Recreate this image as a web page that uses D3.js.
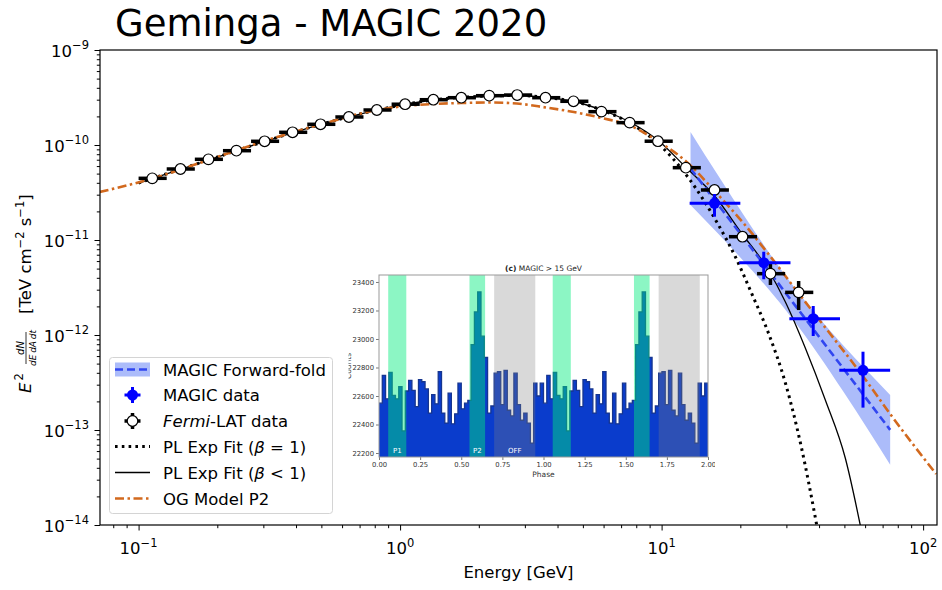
<!DOCTYPE html>
<html>
<head>
<meta charset="utf-8">
<script src="https://cdn.jsdelivr.net/npm/d3@7"></script>
<style>
  body { margin: 0; background: #fff; }
  svg { display: block; font-family: "DejaVu Sans", sans-serif; }
</style>
</head>
<body>
<svg id="chart" width="942" height="590"></svg>
<script>
// ---------------- Fermi-LAT spectral points ----------------
const fermiE = [0.1128, 0.1446, 0.1850, 0.2366, 0.3034, 0.3880, 0.4963, 0.6370, 0.8149, 1.045,
                1.340, 1.714, 2.192, 2.804, 3.598, 4.603, 5.887, 7.549, 9.681, 12.38,
                15.93, 20.38, 26.07, 33.42];
const fermiEdges = [0.100, 0.1281, 0.1641, 0.2102, 0.2692, 0.3447, 0.4416, 0.5655, 0.7244, 0.9279,
                    1.189, 1.522, 1.950, 2.497, 3.199, 4.098, 5.248, 6.722, 8.610, 11.03,
                    14.13, 18.09, 23.17, 29.68, 38.02];
const fermiF = [4.46e-11, 5.59e-11, 7.07e-11, 8.71e-11, 1.094e-10, 1.361e-10, 1.652e-10, 1.972e-10, 2.336e-10, 2.687e-10,
                2.997e-10, 3.147e-10, 3.304e-10, 3.357e-10, 3.147e-10, 2.884e-10, 2.243e-10, 1.719e-10, 1.096e-10, 5.77e-11,
                3.36e-11, 1.083e-11, 4.42e-12, 2.81e-12];
const fermiFlo = [4.28e-11, 5.37e-11, 6.79e-11, 8.36e-11, 1.050e-10, 1.307e-10, 1.586e-10, 1.893e-10, 2.243e-10, 2.580e-10,
                  2.877e-10, 3.021e-10, 3.172e-10, 3.223e-10, 3.021e-10, 2.769e-10, 2.153e-10, 1.650e-10, 1.052e-10, 5.42e-11,
                  3.06e-11, 9.53e-12, 3.36e-12, 1.83e-12];
const fermiFhi = [4.64e-11, 5.81e-11, 7.35e-11, 9.06e-11, 1.138e-10, 1.415e-10, 1.718e-10, 2.051e-10, 2.429e-10, 2.794e-10,
                  3.117e-10, 3.273e-10, 3.436e-10, 3.491e-10, 3.273e-10, 2.999e-10, 2.333e-10, 1.788e-10, 1.140e-10, 6.12e-11,
                  3.66e-11, 1.213e-11, 5.73e-12, 3.70e-12];

// ---------------- MAGIC spectral points ----------------
const magicE   = [15.93, 24.58, 38.0, 58.9];
const magicElo = [12.8, 19.8, 30.8, 47.8];
const magicEhi = [20.0, 31.1, 48.1, 74.8];
const magicF   = [2.43e-11, 5.77e-12, 1.486e-12, 4.25e-13];
const magicFlo = [1.76e-11, 3.86e-12, 9.76e-13, 1.72e-13];
const magicFhi = [3.05e-11, 7.53e-12, 2.02e-12, 6.67e-13];

// ---------------- MAGIC forward-folded power law and its band ----------------
const ffE  = [12.90, 16.50, 20.56, 25.61, 31.90, 39.74, 49.52, 61.68, 74.82];
const ffF  = [5.66e-11, 2.331e-11, 1.055e-11, 4.786e-12, 2.166e-12, 9.81e-13, 4.44e-13, 2.014e-13, 1.003e-13];
const ffHi = [1.370e-10, 4.706e-11, 1.846e-11, 7.53e-12, 3.270e-12, 1.543e-12, 7.77e-13, 4.07e-13, 2.331e-13];
const ffLo = [2.336e-11, 1.154e-11, 6.026e-12, 3.042e-12, 1.435e-12, 6.23e-13, 2.536e-13, 9.97e-14, 4.31e-14];

// ---------------- Power law with exponential cutoff, beta = 1 ----------------
const expCutE = [0.1, 0.1850, 0.3028, 0.4951, 0.8170, 1.337, 2.186, 2.797, 3.609, 4.616, 5.902,
                 7.549, 9.654, 12.68, 16.50, 19.16, 22.06, 25.61, 29.74, 34.22, 39.05, 40.45];
const expCutF = [3.98e-11, 6.95e-11, 1.088e-10, 1.643e-10, 2.335e-10, 2.976e-10, 3.280e-10, 3.320e-10, 3.162e-10, 2.870e-10, 2.335e-10,
                 1.704e-10, 1.050e-10, 4.49e-11, 1.438e-11, 6.62e-12, 2.767e-12, 1.050e-12, 3.124e-13, 6.62e-14, 1.050e-14, 6.16e-15];

// ---------------- Power law with sub-exponential cutoff, beta < 1 ----------------
const subExpE = [0.1, 0.1850, 0.3028, 0.4951, 0.8170, 1.337, 2.186, 2.797, 3.609, 4.616, 5.902,
                 7.549, 9.654, 12.35, 16.07, 20.20, 25.61, 29.74, 35.44, 42.27, 50.39, 57.48, 60.59];
const subExpF = [3.98e-11, 6.95e-11, 1.088e-10, 1.643e-10, 2.335e-10, 2.976e-10, 3.280e-10, 3.320e-10, 3.162e-10, 2.870e-10, 2.335e-10,
                 1.746e-10, 1.129e-10, 5.87e-11, 2.836e-11, 1.185e-11, 4.83e-12, 2.225e-12, 7.30e-13, 2.068e-13, 5.07e-14, 1.0e-14, 4.83e-15];

// ---------------- Outer-gap model, P2 ----------------
const ogE = [0.0710, 0.1131, 0.1850, 0.3028, 0.4951, 0.8170, 1.045, 1.337, 1.709, 2.186, 2.797, 3.609, 4.616,
             5.902, 7.549, 9.654, 12.35, 16.07, 20.38, 25.61, 33.34, 40.11, 59.55, 74.82, 112.1];
const ogF = [3.20e-11, 4.44e-11, 6.95e-11, 1.101e-10, 1.643e-10, 2.335e-10, 2.573e-10, 2.702e-10, 2.768e-10, 2.802e-10, 2.734e-10, 2.481e-10, 2.225e-10,
             1.924e-10, 1.604e-10, 1.101e-10, 6.79e-11, 3.20e-11, 1.547e-11, 7.12e-12, 2.77e-12, 1.438e-12, 3.53e-13, 1.474e-13, 3.44e-14];

// ---------------- Axis ticks ----------------
const xMajorExp = [-1, 0, 1, 2];
const yMajorExp = [-14, -13, -12, -11, -10, -9];

// ---------------- Phasogram (MAGIC > 15 GeV), one rotation, 50 bins ----------------
const phaseBinWidth = 0.02;
const phaseCounts = [22550, 22745, 22580, 22765, 22605, 22580, 22665, 22355, 22635, 22710,
                     22640, 22525, 22715, 22700, 22650, 22480, 22610, 22545, 22770, 22480,
                     22410, 22620, 22405, 22475, 22690, 22510, 22550, 22570, 22960, 23190,
                     23330, 23020, 22870, 22480, 22530, 22760, 22770, 22540, 22780, 22500,
                     22460, 22760, 22540, 22430, 22480, 22410, 22270, 22690, 22600, 22690];
const phaseRotations = [0, 1];
const onRegionNames = ['P1', 'P2'];
const onRegionLo = [0.056, 0.55];
const onRegionHi = [0.166, 0.645];
const offRegionName = 'OFF';
const offRegionLo = 0.70;
const offRegionHi = 0.95;
const phaseTicks = [0, 0.25, 0.5, 0.75, 1.0, 1.25, 1.5, 1.75, 2.0];
const countTicks = [22200, 22400, 22600, 22800, 23000, 23200, 23400];

const legendLabels = ['MAGIC Forward-fold', 'MAGIC data', 'Fermi-LAT data',
                      'PL Exp Fit (β = 1)', 'PL Exp Fit (β < 1)', 'OG Model P2'];

// ======================================================================
const M = { l: 100, r: 937, t: 50, b: 525 };
const svg = d3.select('#chart');
const defs = svg.append('defs');

const x = d3.scaleLog().domain([0.0712, 113]).range([M.l, M.r]);
const y = d3.scaleLog().domain([1e-14, 1e-9]).range([M.b, M.t]);

defs.append('clipPath').attr('id', 'plot-clip').append('rect')
  .attr('x', M.l).attr('y', M.t).attr('width', M.r - M.l).attr('height', M.b - M.t);

// Title
svg.append('text').attr('x', 115).attr('y', 35.5).attr('font-size', 37).attr('fill', '#000')
  .text('Geminga - MAGIC 2020');

const isDecade = v => Math.abs(Math.log10(v) - Math.round(Math.log10(v))) < 1e-6;

// ---- axes ----
const xMajor = xMajorExp.map(e => Math.pow(10, e));
const xMinor = x.ticks().filter(v => !isDecade(v));
const yMajor = yMajorExp.map(e => Math.pow(10, e));
const yMinor = y.ticks().filter(v => !isDecade(v));

function styleAxis(g) {
  g.select('.domain').remove();
  g.selectAll('.tick line').attr('stroke', '#000').attr('stroke-width', 1);
}
svg.append('g').attr('transform', `translate(0,${M.b})`)
  .call(d3.axisBottom(x).tickValues(xMinor).tickSize(3.2).tickFormat('')).call(styleAxis);
svg.append('g').attr('transform', `translate(0,${M.b})`)
  .call(d3.axisBottom(x).tickValues(xMajor).tickSize(5.5).tickFormat('')).call(styleAxis);
svg.append('g').attr('transform', `translate(${M.l},0)`)
  .call(d3.axisLeft(y).tickValues(yMinor).tickSize(3.2).tickFormat('')).call(styleAxis);
svg.append('g').attr('transform', `translate(${M.l},0)`)
  .call(d3.axisLeft(y).tickValues(yMajor).tickSize(5.5).tickFormat('')).call(styleAxis);

function powLabel(px, py, exp, anchor) {
  const t = svg.append('text').attr('x', px).attr('y', py).attr('text-anchor', anchor)
    .attr('font-size', 16.5).attr('fill', '#000');
  t.append('tspan').text('10');
  t.append('tspan').attr('font-size', 11.5).attr('dy', -7.5)
    .text(exp < 0 ? '\u2212' + (-exp) : String(exp));
}
xMajorExp.forEach((e, i) => powLabel(x(xMajor[i]), 554, e, 'middle'));
yMajorExp.forEach((e, i) => powLabel(89, y(yMajor[i]) + 6.5, e, 'end'));

// axis titles
svg.append('text').attr('x', (M.l + M.r) / 2).attr('y', 578).attr('text-anchor', 'middle')
  .attr('font-size', 16.5).text('Energy [GeV]');

const yl = svg.append('g').attr('transform', 'translate(31,290) rotate(-90)').attr('font-size', 16.5);
yl.append('text').attr('x', -103).attr('y', 0).attr('font-style', 'italic').text('E');
yl.append('text').attr('x', -90.5).attr('y', -8).attr('font-size', 11.5).text('2');
yl.append('text').attr('x', -58).attr('y', -7.5).attr('text-anchor', 'middle')
  .attr('font-size', 10).attr('font-style', 'italic').text('dN');
yl.append('line').attr('x1', -74).attr('x2', -42).attr('y1', -5).attr('y2', -5)
  .attr('stroke', '#000').attr('stroke-width', 0.8);
yl.append('text').attr('x', -58).attr('y', 4.5).attr('text-anchor', 'middle')
  .attr('font-size', 9).attr('font-style', 'italic').text('dE\u2009dA\u2009dt');
const ylu = yl.append('text').attr('x', -24).attr('y', 0);
ylu.append('tspan').text('[TeV cm');
ylu.append('tspan').attr('font-size', 11.5).attr('dy', -7.5).text('\u22122');
ylu.append('tspan').attr('dy', 7.5).text(' s');
ylu.append('tspan').attr('font-size', 11.5).attr('dy', -7.5).text('\u22121');
ylu.append('tspan').attr('dy', 7.5).text(']');

// ---- plot contents ----
const plot = svg.append('g').attr('clip-path', 'url(#plot-clip)');

const ff = ffE.map((e, i) => ({ E: e, F: ffF[i], lo: ffLo[i], hi: ffHi[i] }));
plot.append('path').datum(ff)
  .attr('d', d3.area().x(d => x(d.E)).y0(d => y(d.lo)).y1(d => y(d.hi)).curve(d3.curveMonotoneX))
  .attr('fill', 'rgb(172,188,250)');

const curve = (es, fs) => es.map((e, i) => ({ E: e, F: fs[i] }));
const line = d3.line().x(d => x(d.E)).y(d => y(d.F)).curve(d3.curveMonotoneX);

plot.append('path').datum(curve(expCutE, expCutF)).attr('d', line)
  .attr('fill', 'none').attr('stroke', '#000').attr('stroke-width', 3).attr('stroke-dasharray', '2.6,4.2');
plot.append('path').datum(curve(subExpE, subExpF)).attr('d', line)
  .attr('fill', 'none').attr('stroke', '#000').attr('stroke-width', 1.3);
plot.append('path').datum(ff).attr('d', d3.line().x(d => x(d.E)).y(d => y(d.F)))
  .attr('fill', 'none').attr('stroke', '#3146f0').attr('stroke-width', 2.6).attr('stroke-dasharray', '8,4');
plot.append('path').datum(curve(ogE, ogF)).attr('d', line)
  .attr('fill', 'none').attr('stroke', '#d2691e').attr('stroke-width', 2.6)
  .attr('stroke-dasharray', '9,3.5,2.5,3.5');

// Fermi-LAT points
const fermi = fermiE.map((e, i) => ({ E: e, F: fermiF[i], e0: fermiEdges[i], e1: fermiEdges[i + 1], lo: fermiFlo[i], hi: fermiFhi[i] }));
const fg = plot.append('g');
fg.selectAll('line.h').data(fermi).join('line')
  .attr('x1', d => x(d.e0)).attr('x2', d => x(d.e1)).attr('y1', d => y(d.F)).attr('y2', d => y(d.F))
  .attr('stroke', '#000').attr('stroke-width', 3.5);
fg.selectAll('line.v').data(fermi).join('line')
  .attr('x1', d => x(d.E)).attr('x2', d => x(d.E)).attr('y1', d => y(d.lo)).attr('y2', d => y(d.hi))
  .attr('stroke', '#000').attr('stroke-width', 3.5);
fg.selectAll('circle').data(fermi).join('circle')
  .attr('cx', d => x(d.E)).attr('cy', d => y(d.F)).attr('r', 5.3)
  .attr('fill', '#fff').attr('stroke', '#000').attr('stroke-width', 1.2);

// MAGIC points
const magic = magicE.map((e, i) => ({ E: e, F: magicF[i], e0: magicElo[i], e1: magicEhi[i], lo: magicFlo[i], hi: magicFhi[i] }));
const mg = plot.append('g');
mg.selectAll('line.h').data(magic).join('line')
  .attr('x1', d => x(d.e0)).attr('x2', d => x(d.e1)).attr('y1', d => y(d.F)).attr('y2', d => y(d.F))
  .attr('stroke', '#0000ff').attr('stroke-width', 3);
mg.selectAll('line.v').data(magic).join('line')
  .attr('x1', d => x(d.E)).attr('x2', d => x(d.E)).attr('y1', d => y(d.lo)).attr('y2', d => y(d.hi))
  .attr('stroke', '#0000ff').attr('stroke-width', 3);
mg.selectAll('circle').data(magic).join('circle')
  .attr('cx', d => x(d.E)).attr('cy', d => y(d.F)).attr('r', 5.5).attr('fill', '#0000ff');

// frame
svg.append('rect').attr('x', M.l).attr('y', M.t).attr('width', M.r - M.l).attr('height', M.b - M.t)
  .attr('fill', 'none').attr('stroke', '#000').attr('stroke-width', 1.2);

// ---- legend ----
const lg = svg.append('g');
lg.append('rect').attr('x', 109.5).attr('y', 357.5).attr('width', 223).attr('height', 156).attr('rx', 3)
  .attr('fill', 'rgba(255,255,255,0.85)').attr('stroke', '#d4d4d4');
const rowY = [369.5, 395, 421, 446.5, 472.5, 498.5];
const hx0 = 115, hx1 = 150, hxc = 132.5;
// forward-fold handle
lg.append('rect').attr('x', hx0).attr('y', rowY[0] - 7).attr('width', hx1 - hx0).attr('height', 14).attr('fill', 'rgb(172,188,250)');
lg.append('line').attr('x1', hx0).attr('x2', hx1).attr('y1', rowY[0]).attr('y2', rowY[0])
  .attr('stroke', '#3146f0').attr('stroke-width', 2.6).attr('stroke-dasharray', '8,4');
// MAGIC data handle
lg.append('line').attr('x1', hxc - 8).attr('x2', hxc + 8).attr('y1', rowY[1]).attr('y2', rowY[1]).attr('stroke', '#0000ff').attr('stroke-width', 3);
lg.append('line').attr('x1', hxc).attr('x2', hxc).attr('y1', rowY[1] - 8).attr('y2', rowY[1] + 8).attr('stroke', '#0000ff').attr('stroke-width', 3);
lg.append('circle').attr('cx', hxc).attr('cy', rowY[1]).attr('r', 5.5).attr('fill', '#0000ff');
// Fermi handle
lg.append('line').attr('x1', hxc - 8).attr('x2', hxc + 8).attr('y1', rowY[2]).attr('y2', rowY[2]).attr('stroke', '#000').attr('stroke-width', 3.5);
lg.append('line').attr('x1', hxc).attr('x2', hxc).attr('y1', rowY[2] - 8).attr('y2', rowY[2] + 8).attr('stroke', '#000').attr('stroke-width', 3.5);
lg.append('circle').attr('cx', hxc).attr('cy', rowY[2]).attr('r', 5.3).attr('fill', '#fff').attr('stroke', '#000').attr('stroke-width', 1.2);
// fit lines
lg.append('line').attr('x1', hx0).attr('x2', hx1).attr('y1', rowY[3]).attr('y2', rowY[3])
  .attr('stroke', '#000').attr('stroke-width', 3).attr('stroke-dasharray', '2.6,4.2');
lg.append('line').attr('x1', hx0).attr('x2', hx1).attr('y1', rowY[4]).attr('y2', rowY[4])
  .attr('stroke', '#000').attr('stroke-width', 1.3);
lg.append('line').attr('x1', hx0).attr('x2', hx1).attr('y1', rowY[5]).attr('y2', rowY[5])
  .attr('stroke', '#d2691e').attr('stroke-width', 2.6).attr('stroke-dasharray', '9,3.5,2.5,3.5');

legendLabels.forEach((lab, i) => {
  const t = lg.append('text').attr('x', 163).attr('y', rowY[i] + 6).attr('font-size', 16.5).attr('fill', '#000');
  if (lab.startsWith('Fermi')) {
    t.append('tspan').attr('font-style', 'italic').text('Fermi');
    t.append('tspan').text(lab.slice(5));
  } else if (lab.includes('β')) {
    const k = lab.indexOf('β');
    t.append('tspan').text(lab.slice(0, k));
    t.append('tspan').attr('font-style', 'italic').text('β');
    t.append('tspan').text(lab.slice(k + 1));
  } else {
    t.text(lab);
  }
});

// ---- inset: phasogram ----
const IN = { l: 379, r: 708, t: 275, b: 457 };
defs.append('clipPath').attr('id', 'inset-clip').append('rect')
  .attr('x', 348.5).attr('y', 259).attr('width', 366.5).attr('height', 222);
const ins = svg.append('g').attr('clip-path', 'url(#inset-clip)');
ins.append('rect').attr('x', 343).attr('y', 259).attr('width', 372).attr('height', 222).attr('fill', '#fff');

const xi = d3.scaleLinear().domain([0, 2]).range([IN.l, IN.r]);
const yi = d3.scaleLinear().domain([22172, 23449]).range([IN.b, IN.t]);

const steps = [];
phaseRotations.forEach(r => phaseCounts.forEach((c, i) => steps.push({ p: r + i * phaseBinWidth, v: c })));
steps.push({ p: 2, v: phaseCounts[phaseCounts.length - 1] });

ins.append('path').datum(steps)
  .attr('d', d3.area().x(d => xi(d.p)).y0(IN.b).y1(d => yi(d.v)).curve(d3.curveStepAfter))
  .attr('fill', '#0a3ccc');
ins.append('path').datum(steps)
  .attr('d', d3.line().x(d => xi(d.p)).y(d => yi(d.v)).curve(d3.curveStepAfter))
  .attr('fill', 'none').attr('stroke', '#16358f').attr('stroke-width', 1.3);

// phase regions
phaseRotations.forEach(r => {
  onRegionLo.forEach((lo, i) => {
    ins.append('rect').attr('x', xi(r + lo)).attr('y', IN.t).attr('width', xi(r + onRegionHi[i]) - xi(r + lo))
      .attr('height', IN.b - IN.t).attr('fill', 'rgba(0,235,125,0.45)');
  });
  ins.append('rect').attr('x', xi(r + offRegionLo)).attr('y', IN.t).attr('width', xi(r + offRegionHi) - xi(r + offRegionLo))
    .attr('height', IN.b - IN.t).attr('fill', 'rgba(128,128,128,0.3)');
});
onRegionNames.forEach((n, i) => {
  ins.append('text').attr('x', xi((onRegionLo[i] + onRegionHi[i]) / 2)).attr('y', 452.5).attr('text-anchor', 'middle')
    .attr('font-size', 7).attr('fill', '#fff').text(n);
});
ins.append('text').attr('x', xi((offRegionLo + offRegionHi) / 2)).attr('y', 452.5).attr('text-anchor', 'middle')
  .attr('font-size', 7).attr('fill', '#fff').text(offRegionName);

// inset axes
function styleInsetAxis(g) {
  g.select('.domain').remove();
  g.selectAll('.tick line').attr('stroke', '#555').attr('stroke-width', 0.8);
  g.selectAll('.tick text').attr('font-size', 6.8).attr('fill', '#333').attr('font-family', '"DejaVu Sans", sans-serif');
}
ins.append('g').attr('transform', `translate(0,${IN.b})`)
  .call(d3.axisBottom(xi).tickValues(phaseTicks).tickSize(3).tickPadding(2).tickFormat(d3.format('.2f')))
  .call(styleInsetAxis);
ins.append('g').attr('transform', `translate(${IN.l},0)`)
  .call(d3.axisLeft(yi).tickValues(countTicks).tickSize(3).tickPadding(2).tickFormat(d3.format('d')))
  .call(styleInsetAxis);
ins.append('rect').attr('x', IN.l).attr('y', IN.t).attr('width', IN.r - IN.l).attr('height', IN.b - IN.t)
  .attr('fill', 'none').attr('stroke', '#999').attr('stroke-width', 1);

const it = ins.append('text').attr('x', (IN.l + IN.r) / 2).attr('y', 270.5).attr('text-anchor', 'middle')
  .attr('font-size', 7.5).attr('fill', '#222');
it.append('tspan').attr('font-weight', 'bold').text('(c)');
it.append('tspan').text(' MAGIC > 15 GeV');
ins.append('text').attr('x', (IN.l + IN.r) / 2).attr('y', 477).attr('text-anchor', 'middle')
  .attr('font-size', 7.5).attr('fill', '#333').text('Phase');
ins.append('text').attr('transform', `translate(351,${(IN.t + IN.b) / 2}) rotate(-90)`).attr('text-anchor', 'middle')
  .attr('font-size', 7.5).attr('fill', '#333').text('Counts');
</script>
</body>
</html>
